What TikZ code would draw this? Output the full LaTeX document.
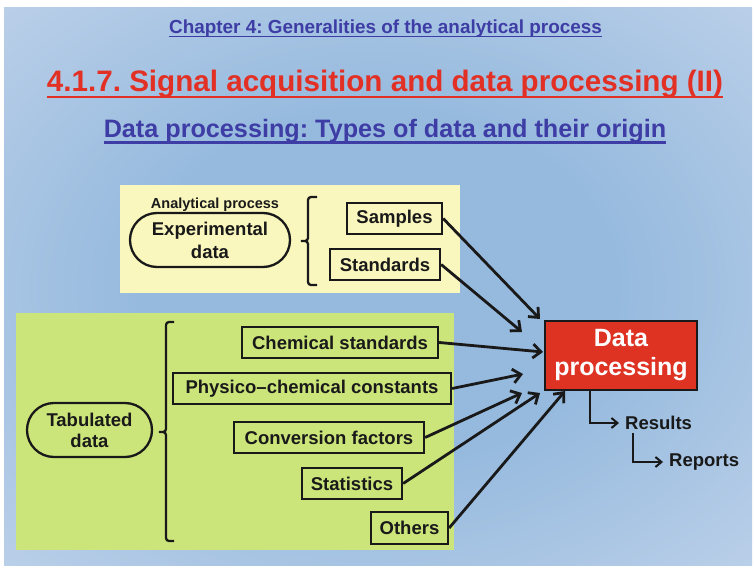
\documentclass[tikz,border=0pt]{standalone}
\usepackage{fontspec}
\setmainfont{Liberation Sans}
\frenchspacing
\usetikzlibrary{arrows.meta,calc}
\definecolor{bgA}{RGB}{150,186,222}
\definecolor{bgB}{RGB}{198,214,236}
\definecolor{bgC}{RGB}{242,230,246}
\definecolor{chapblue}{RGB}{62,60,165}
\definecolor{headred}{RGB}{226,48,36}
\definecolor{paleyellow}{RGB}{250,247,190}
\definecolor{palegreen}{RGB}{204,229,122}
\definecolor{dpred}{RGB}{222,50,35}
\definecolor{ink}{RGB}{25,25,25}
\pgfdeclareradialshading{slidebg}{\pgfpoint{0bp}{0bp}}{color(0bp)=(bgA); color(16bp)=(bgA); color(42bp)=(bgB); color(62bp)=(bgC); color(75bp)=(bgC)}
\tikzset{
  txt/.style={font=\fontsize{18.5}{23}\selectfont\bfseries, text=ink},
  itembox/.style={txt, draw=ink, line width=2.3pt, inner sep=0pt, minimum height=31pt},
  ovalbox/.style={txt, draw=ink, line width=2.3pt, inner sep=0pt, align=center, minimum height=54pt, rounded corners=27pt},
  feed/.style={ink, line width=2.8pt, -{Straight Barb[length=8pt,width=14pt]}},
  outarr/.style={ink, line width=2pt, -{Straight Barb[length=6pt,width=10pt]}},
  bracestyle/.style={ink, line width=2.3pt, rounded corners=3pt},
}
\begin{document}
\begin{tikzpicture}[x=1pt,y=-1pt]
\useasboundingbox (0,0) rectangle (754,569);
\fill[white] (0,0) rectangle (754,569);
\shade[shading=slidebg] (4,8) rectangle (752,565);

% titles
\node[anchor=base, text=chapblue, font=\fontsize{18.9}{21}\selectfont\bfseries, inner sep=0pt] (chap) at (385.5,34) {Chapter 4: Generalities of the analytical process};
\draw[chapblue, line width=1.5pt] ([yshift=-2.5pt]chap.base west) -- ([yshift=-2.5pt]chap.base east);
\node[anchor=base, text=headred, font=\fontsize{29.6}{32}\selectfont\bfseries, inner sep=0pt] (head) at (385,92) {4.1.7. Signal acquisition and data processing (II)};
\draw[headred, line width=2.8pt] ([yshift=-5pt]head.base west) -- ([yshift=-5pt]head.base east);
\node[anchor=base, text=chapblue, font=\fontsize{25.2}{28}\selectfont\bfseries, inner sep=0pt] (sub) at (385,138) {Data processing: Types of data and their origin};
\draw[chapblue, line width=2.2pt] ([yshift=-4.5pt]sub.base west) -- ([yshift=-4.5pt]sub.base east);

% panels
\fill[paleyellow] (120,185) rectangle (460,293);
\fill[palegreen] (16,313) rectangle (454,550);

% experimental
\node[txt, font=\fontsize{14.5}{16}\selectfont\bfseries, inner sep=0pt] (ap) at (215,204.5) {Analytical process};
\node[ovalbox, minimum width=160pt] (exp) at (210,240) {Experimental\\data};
\draw[bracestyle] (317,197) -| (308,241) -- (299,241) -- (308,241) |- (317,285);
\node[itembox, minimum width=95pt] (samples) at (394.5,218.5) {Samples};
\node[itembox, minimum width=110pt] (standards) at (385,264.5) {Standards};

% tabulated
\node[ovalbox, minimum width=125pt, font=\fontsize{18.5}{21}\selectfont\bfseries] (tab) at (89.5,430) {Tabulated\\data};
\draw[bracestyle] (174,322) -| (166,432) -- (157,432) -- (166,432) |- (174,541);
\node[itembox, minimum width=196pt] (chem) at (340,342.5) {Chemical standards};
\node[itembox, minimum width=278pt] (phys) at (312,388.5) {Physico--chemical constants};
\node[itembox, minimum width=190pt] (conv) at (329,437.5) {Conversion factors};
\node[itembox, minimum width=100pt] (stat) at (352,483.5) {Statistics};
\node[itembox, minimum width=77pt, minimum height=32pt] (others) at (409.5,528) {Others};

% data processing
\node[draw=ink, fill=dpred, line width=2pt, minimum width=152pt, minimum height=69pt, inner sep=0pt, align=center, text=white, font=\fontsize{25}{29}\selectfont\bfseries] (dp) at (621,355) {Data\\processing};

\coordinate (t1) at (540,319);
\coordinate (t2) at (522,332);
\coordinate (t3) at (543,352);
\coordinate (t4) at (523,374);
\coordinate (t5) at (522,393);
\coordinate (t6) at (540,393);
\coordinate (t7) at (565,391);
\draw[feed] (samples.east) -- (t1);
\draw[feed] (standards.east) -- (t2);
\draw[feed] (chem.east) -- (t3);
\draw[feed] (phys.east) -- (t4);
\draw[feed] (conv.east) -- (t5);
\draw[feed] (stat.east) -- (t6);
\draw[feed] (others.east) -- (t7);

% outputs
\node[txt, anchor=west, inner sep=0pt] (results) at (625,423) {Results};
\node[txt, anchor=west, inner sep=0pt] (reports) at (669,462) {Reports};
\draw[outarr] ($(dp.south west)+(46,0)$) |- ([xshift=-6pt]results.west);
\draw[outarr] ($(results.south west)+(8,3)$) |- ([xshift=-6pt]reports.west);
\end{tikzpicture}
\end{document}
